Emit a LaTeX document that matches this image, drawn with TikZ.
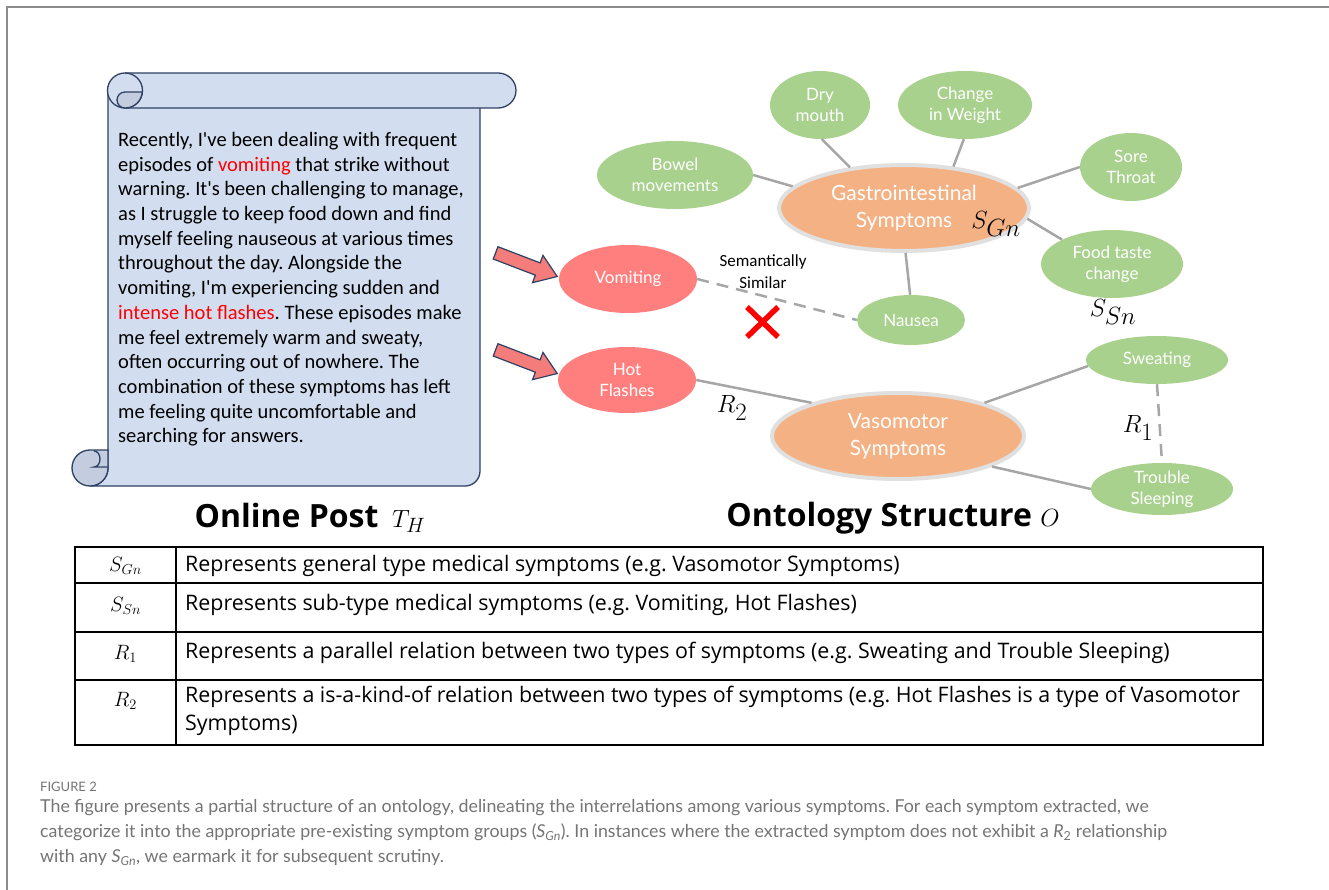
\documentclass[tikz,border=0pt]{standalone}
\usepackage{fontspec}
\usepackage{amsmath}
\usepackage{tikz}
\usetikzlibrary{shapes.geometric,shapes.arrows}
\setmainfont{Carlito}
\newfontfamily\elfont{Lato}
\newfontfamily\tabfont{Open Sans}
\newfontfamily\capfont{Lato}
\frenchspacing
\newcommand{\ap}{\textquotesingle}

\definecolor{scrollfill}{HTML}{D2DEEF}
\definecolor{curlfill}{HTML}{C3CDDF}
\definecolor{scrollline}{HTML}{2F4063}
\definecolor{pinkfill}{HTML}{F47C7A}
\definecolor{redsym}{HTML}{FF7F7F}
\definecolor{orangesym}{HTML}{F4B183}
\definecolor{greensym}{HTML}{A9D18E}
\definecolor{edgegray}{HTML}{A6A6A6}
\definecolor{capgray}{HTML}{747474}
\definecolor{framegray}{HTML}{8C8C8C}

\tikzset{
  sym/.style={ellipse, inner sep=0pt, text=white, align=center, font=\elfont\fontsize{17}{21}\selectfont},
  subsym/.style={sym, fill=greensym},
  postsym/.style={sym, fill=redsym},
  gensym/.style={sym, fill=orangesym, draw=black!12, line width=4pt, font=\elfont\fontsize{21}{27}\selectfont},
  rel/.style={edgegray, line width=2.5pt},
  pinkarrow/.style={single arrow, fill=pinkfill, draw=scrollline, line width=1.2pt, minimum height=66pt,
    minimum width=28pt, inner sep=6pt, single arrow head extend=8pt, single arrow tip angle=70},
  mathlbl/.style={font=\fontsize{34}{40}\selectfont, inner sep=0pt},
  rowlbl/.style={font=\fontsize{22}{26}\selectfont},
  rowtext/.style={anchor=west, inner sep=0pt, font=\tabfont\fontsize{21.4}{28}\selectfont},
  titletext/.style={font=\tabfont\bfseries\fontsize{32}{38}\selectfont},
}

\begin{document}
\begin{tikzpicture}[x=1pt, y=-1pt]
		\useasboundingbox (0,0) rectangle (1329,890);
		\draw[framegray, line width=1.5pt] (7,890) -- (7,7) -- (1329,7);

		% scroll
		\begin{scope}[draw=scrollline, line width=1.3pt]
			\filldraw[fill=scrollfill] (108,95) -- (108,468) to[out=-90,in=0] (90,486) -- (465,486)
				to[out=0,in=-90] (480,471) -- (480,95) -- cycle;
			\filldraw[fill=curlfill] (90,450) to[out=180,in=90] (72,468) to[out=-90,in=180] (90,486)
				to[out=0,in=-90] (108,468) -- (108,450) -- cycle;
			\draw (108,467) -- (94,467) to[out=0,in=-90] (100,459) to[out=90,in=0] (94,451);
			\filldraw[fill=scrollfill] (125,73) -- (498,73) to[out=0,in=90] (516,90.5)
				to[out=-90,in=0] (498,108) -- (125,108) to[out=180,in=-90] (107.5,90.5)
				to[out=90,in=180] cycle;
			\draw (125,73) to[out=0,in=90] (142.5,90.5) to[out=-90,in=0] (125,108);
			\filldraw[fill=curlfill] (125,92) -- (142.3,92) to[out=-95,in=0] (125,108)
				to[out=180,in=-90] (117,100) to[out=90,in=180] cycle;
		\end{scope}
		\node[anchor=north west, align=left, inner sep=0pt, font=\fontsize{20.5}{24.7}\selectfont] (post) at (118,132)
			{Recently, I\ap ve been dealing with frequent\\
			episodes of \textcolor{red}{vomiting} that strike without\\
			warning. It\ap s been challenging to manage,\\
			as I struggle to keep food down and find\\
			myself feeling nauseous at various times\\
			throughout the day. Alongside the\\
			vomiting, I\ap m experiencing sudden and\\
			\textcolor{red}{intense hot flashes}. These episodes make\\
			me feel extremely warm and sweaty,\\
			often occurring out of nowhere. The\\
			combination of these symptoms has left\\
			me feeling quite uncomfortable and\\
			searching for answers.};

		\node[pinkarrow, rotate=-21] (arrowa) at (522,263) {};
		\node[pinkarrow, rotate=-21] (arrowb) at (522,360) {};

		% ontology
		\node[subsym, minimum width=100pt, minimum height=68pt] (dry) at (820,105) {Dry\\mouth};
		\node[subsym, minimum width=134pt, minimum height=68pt] (weight) at (965,105) {Change\\in Weight};
		\node[subsym, minimum width=156pt, minimum height=68pt] (bowel) at (675,175) {Bowel\\movements};
		\node[subsym, minimum width=102pt, minimum height=68pt] (throat) at (1131,167) {Sore\\Throat};
		\node[subsym, minimum width=142pt, minimum height=68pt] (taste) at (1112,264) {Food taste\\change};
		\node[subsym, minimum width=108pt, minimum height=50pt] (nausea) at (911,320) {Nausea};
		\node[gensym, minimum width=250pt, minimum height=86pt] (gastro) at (904,208) {Gastrointestinal\\Symptoms};
		\node[postsym, minimum width=138pt, minimum height=68pt] (vomit) at (628,279) {Vomiting};
		\node[postsym, minimum width=138pt, minimum height=66pt] (hot) at (627,380) {Hot\\Flashes};
		\node[gensym, minimum width=252pt, minimum height=86pt] (vaso) at (898,436) {Vasomotor\\Symptoms};
		\node[subsym, minimum width=142pt, minimum height=48pt] (sweat) at (1157,360) {Sweating};
		\node[subsym, minimum width=142pt, minimum height=52pt] (sleep) at (1162,489) {Trouble\\Sleeping};

		\draw[rel] (bowel.0) -- (gastro.169);
		\draw[rel] (dry.-87) -- (gastro.143);
		\draw[rel] (weight.-92) -- (gastro.40);
		\draw[rel] (throat.180) -- (gastro.10);
		\draw[rel] (taste.154) -- (gastro.-5);
		\draw[rel] (nausea.92) -- (gastro.-88);
		\draw[rel, dash pattern=on 12pt off 8pt] (vomit.0) -- (nausea.180);
		\draw[rel] (hot.0) -- (vaso.159);
		\draw[rel] (vaso.21) -- (sweat.185);
		\draw[rel] (vaso.-18) -- (sleep.180);
		\draw[rel, dash pattern=on 12pt off 8pt] (sweat.-90) -- (sleep.90);

		\node[mathlbl] (sgn) at (996,224) {$S_{Gn}$};
		\node[mathlbl] (ssn) at (1113,312) {$S_{Sn}$};
		\node[mathlbl] (rtwo) at (732,408) {$R_2$};
		\node[mathlbl] (rone) at (1138,428) {$R_1$};
		\node[align=center, inner sep=0pt, font=\fontsize{17}{22}\selectfont] (semlbl) at (763,272) {Semantically\\Similar};
		\draw[red, line width=5.5pt] (747,307) -- (778,337) (747,337) -- (778,307);

		\node[titletext] (posttitle) at (310,518) {Online Post \,$T_H$};
		\node[titletext] (onttitle) at (893,518) {Ontology Structure $O$};

		% table
		\draw[line width=2pt] (75,547) rectangle (1263,745);
		\foreach \y in {583,632,680}
			\draw[line width=2pt] (75,\y) -- (1263,\y);
		\draw[line width=2pt] (176,547) -- (176,745);
		\node[rowlbl] (lsgn) at (125.5,566) {$S_{Gn}$};
		\node[rowlbl] (lssn) at (125.5,606) {$S_{Sn}$};
		\node[rowlbl] (lrone) at (125.5,654) {$R_1$};
		\node[rowlbl] (lrtwo) at (125.5,701) {$R_2$};
		\node[rowtext] (tsgn) at (185,566) {Represents general type medical symptoms (e.g. Vasomotor Symptoms)};
		\node[rowtext] (tssn) at (185,605) {Represents sub-type medical symptoms (e.g. Vomiting, Hot Flashes)};
		\node[rowtext] (trone) at (185,653) {Represents a parallel relation between two types of symptoms (e.g. Sweating and Trouble Sleeping)};
		\node[rowtext, anchor=north west, align=left] (trtwo) at (185,686) {Represents a is-a-kind-of relation between two types of symptoms (e.g. Hot Flashes is a type of Vasomotor\\Symptoms)};

		% caption
		\node[anchor=west, inner sep=0pt, text=capgray, font=\capfont\fontsize{13}{16}\selectfont] (figlbl) at (40,787) {FIGURE 2};
		\node[anchor=north west, align=left, inner sep=0pt, text=capgray, font=\capfont\fontsize{17.8}{25}\selectfont] (caption) at (40,799)
			{The figure presents a partial structure of an ontology, delineating the interrelations among various symptoms. For each symptom extracted, we\\
			categorize it into the appropriate pre-existing symptom groups (\textit{S}\textsubscript{\textit{Gn}}). In instances where the extracted symptom does not exhibit a \textit{R}\textsubscript{2} relationship\\
			with any \textit{S}\textsubscript{\textit{Gn}}, we earmark it for subsequent scrutiny.};
\end{tikzpicture}
\end{document}
